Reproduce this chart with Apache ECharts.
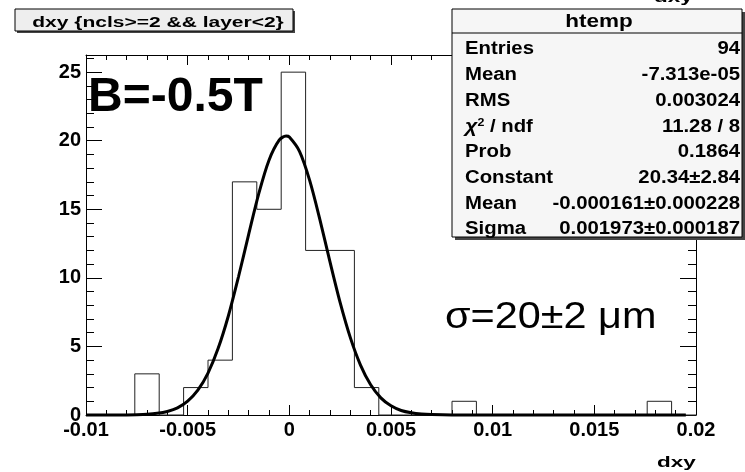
<!DOCTYPE html>
<html><head><meta charset="utf-8">
<script src="https://cdn.jsdelivr.net/npm/echarts@6/dist/echarts.min.js"></script>
<style>html,body{margin:0;padding:0;background:#fff}#c{width:745px;height:472px}</style>
</head><body><div id="c"></div>
<script>
// ---- data ----
const binEdges = [-0.01,-0.0088,-0.0076,-0.0064,-0.0052,-0.004,-0.0028,-0.0016,-0.0004,0.0008,0.002,0.0032,0.0044,0.0056,0.0068,0.008,0.0092,0.0104,0.0116,0.0128,0.014,0.0152,0.0164,0.0176,0.0188,0.02];
const binCounts = [0,0,3,0,2,4,17,15,25,12,12,2,0,0,0,1,0,0,0,0,0,0,0,1,0];
const fitX = [-0.01,-0.009,-0.008,-0.0075,-0.007,-0.0065,-0.006,-0.0055,-0.005,-0.0045,-0.004,-0.0035,-0.003,-0.0025,-0.002,-0.0015,-0.001,-0.0005,-0.00016,0,0.0005,0.001,0.0015,0.002,0.0025,0.003,0.0035,0.004,0.0045,0.005,0.0055,0.006,0.0065,0.007,0.008,0.01,0.0195];
const fitY = [0,0.001,0.008,0.02,0.05,0.12,0.26,0.52,1.01,1.81,3.06,4.86,7.22,10.08,13.17,16.16,18.58,20.04,20.34,20.27,19.23,17.11,14.27,11.16,8.19,5.64,3.64,2.20,1.25,0.67,0.33,0.16,0.07,0.03,0.002,0,0];
const xTickValues = [-0.01,-0.005,0,0.005,0.01,0.015,0.02];
const xTickLabels = ['-0.01','-0.005','0','0.005','0.01','0.015','0.02'];
const yTickValues = [0,5,10,15,20,25];
const yTickLabels = ['0','5','10','15','20','25'];
const titleText = 'dxy {ncls>=2 && layer<2}';
const xAxisTitle = 'dxy';
const statsTitle = 'htemp';
const statLabels = ['Entries','Mean','RMS','{c|\u03c7}{s|2}{n| / ndf}','Prob','Constant','Mean','Sigma'];
const statValues = ['94','-7.313e-05','0.003024','11.28 / 8','0.1864','20.34\u00b12.84','-0.000161\u00b10.000228','0.001973\u00b10.000187'];
const fieldText = 'B=-0.5T';
const sigmaText = '\u03c3=20\u00b12 \u03bcm';

// ---- build ----
const FONT = '"Liberation Sans", Arial, Helvetica, sans-serif';
const histData = [];
for (let i = 0; i < binCounts.length; i++) {
  histData.push([binEdges[i], binCounts[i]]);
  histData.push([binEdges[i + 1], binCounts[i]]);
}
const fitData = fitX.map((x, i) => [x, fitY[i]]);

function lookup(vals, labels) {
  return function (v) {
    for (let i = 0; i < vals.length; i++) if (Math.abs(v - vals[i]) < 1e-9) return labels[i];
    return '';
  };
}

const XMIN = -0.01, XMAX = 0.02, YMIN = 0, YMAX = 26.25;
function xAx(pos, interval, tickLen, showLine, showLabel) {
  return {
    type: 'value', position: pos, min: XMIN, max: XMAX, interval: interval,
    axisLine: { show: showLine, onZero: false, lineStyle: { color: '#000', width: 1 } },
    axisTick: { show: true, inside: true, length: tickLen, lineStyle: { color: '#000', width: 1 } },
    axisLabel: showLabel ? { show: true, margin: 5, color: '#000', fontFamily: FONT, fontWeight: 'bold', fontSize: 20,
      formatter: lookup(xTickValues, xTickLabels) } : { show: false },
    splitLine: { show: false }
  };
}
function yAx(pos, interval, tickLen, showLine, showLabel) {
  return {
    type: 'value', position: pos, min: YMIN, max: YMAX, interval: interval,
    axisLine: { show: showLine, onZero: false, lineStyle: { color: '#000', width: 1 } },
    axisTick: { show: true, inside: true, length: tickLen, lineStyle: { color: '#000', width: 1 } },
    axisLabel: showLabel ? { show: true, margin: 5, color: '#000', fontFamily: FONT, fontWeight: 'bold', fontSize: 20,
      showMaxLabel: false, formatter: lookup(yTickValues, yTickLabels) } : { show: false },
    splitLine: { show: false }
  };
}

function txt(x, y, text, font, align, valign, sx, rich) {
  const st = { text: text, font: font, fill: '#000', textAlign: align, textVerticalAlign: valign };
  if (rich) st.rich = rich;
  return { type: 'text', x: x, y: y, scaleX: sx || 1, z: 100, style: st };
}
const chiRich = {
  c: { font: 'italic bold 19px ' + FONT, fill: '#000' },
  s: { font: 'bold 11px ' + FONT, fill: '#000', verticalAlign: 'top', padding: [0, 0, 9, 0] },
  n: { font: 'bold 18px ' + FONT, fill: '#000' }
};

const graphics = [];
// partially hidden axis title at top right
graphics.push(txt(654, 5, xAxisTitle, 'bold 15px ' + FONT, 'left', 'bottom', 1.5));
// title box
graphics.push({ type: 'rect', z: 90, shape: { x: 17, y: 11, width: 278, height: 22 }, style: { fill: '#444' } });
graphics.push({ type: 'rect', z: 91, shape: { x: 15, y: 9, width: 278, height: 22 }, style: { fill: '#eeeeee', stroke: '#000', lineWidth: 1 } });
graphics.push(txt(158, 23, titleText, 'bold 15px ' + FONT, 'center', 'middle', 1.4));
// stats box
graphics.push({ type: 'rect', z: 90, shape: { x: 455, y: 12, width: 290, height: 228 }, style: { fill: '#444' } });
graphics.push({ type: 'rect', z: 91, shape: { x: 452, y: 9, width: 290, height: 228 }, style: { fill: '#f6f6f6', stroke: '#000', lineWidth: 1 } });
graphics.push({ type: 'line', z: 92, shape: { x1: 452, y1: 33, x2: 742, y2: 33 }, style: { stroke: '#000', lineWidth: 1 } });
graphics.push(txt(599, 22, statsTitle, 'bold 18px ' + FONT, 'center', 'middle', 1.25));
const rowY = [49, 75, 101, 127, 152, 178, 204, 229];
statLabels.forEach((l, i) => {
  graphics.push(txt(465, rowY[i], l, 'bold 18px ' + FONT, 'left', 'middle', 1.13, i === 3 ? chiRich : null));
  graphics.push(txt(740, rowY[i], statValues[i], 'bold 18px ' + FONT, 'right', 'middle', 1.13));
});
// annotations
graphics.push(txt(88, 98, fieldText, 'bold 48px ' + FONT, 'left', 'middle', 1));
graphics.push(txt(445, 318, sigmaText, '36px ' + FONT, 'left', 'middle', 1.15));
// x axis title
graphics.push(txt(657, 463, xAxisTitle, 'bold 15px ' + FONT, 'left', 'middle', 1.5));

const option = {
  animation: false,
  backgroundColor: '#fff',
  grid: { left: 86, right: 49, top: 55, bottom: 57, containLabel: false },
  xAxis: [
    xAx('bottom', 0.005, 10, true, true),
    xAx('bottom', 0.001, 5, false, false),
    xAx('top', 0.005, 10, true, false),
    xAx('top', 0.001, 5, false, false)
  ],
  yAxis: [
    yAx('left', 5, 16, true, true),
    yAx('left', 1, 8, false, false),
    yAx('right', 5, 16, true, false),
    yAx('right', 1, 8, false, false)
  ],
  series: [
    { type: 'line', name: 'hist', xAxisIndex: 0, yAxisIndex: 0, data: histData, showSymbol: false, symbol: 'none',
      lineStyle: { color: '#222', width: 1 }, z: 3, clip: false },
    { type: 'line', name: 'fit', xAxisIndex: 0, yAxisIndex: 0, data: fitData, showSymbol: false, symbol: 'none',
      smooth: 0.3, lineStyle: { color: '#000', width: 3 }, z: 4, clip: false }
  ],
  graphic: graphics
};
const chart = echarts.init(document.getElementById('c'), null, { renderer: 'canvas' });
chart.setOption(option);
</script></body></html>
